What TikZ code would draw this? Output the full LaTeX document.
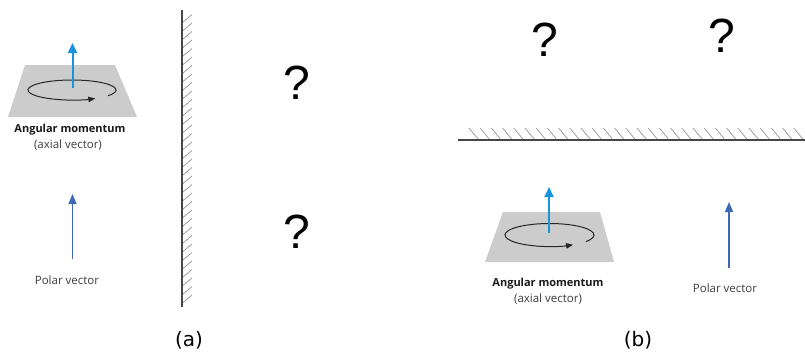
\documentclass[tikz,border=0pt]{standalone}
\usepackage{fontspec}
\setmainfont{Open Sans}
\newfontfamily\qfont{Liberation Sans}
\newfontfamily\labfont{DejaVu Sans}
\usetikzlibrary{arrows.meta}
\definecolor{axblue}{RGB}{24,148,220}
\definecolor{polblue}{RGB}{62,104,180}
\definecolor{txtgray}{RGB}{60,60,60}
\definecolor{planegray}{RGB}{204,204,204}
\definecolor{wallgray}{RGB}{70,70,70}
\definecolor{hatchgray}{RGB}{150,150,150}
\tikzset{
  plane/.style={fill=planegray, draw=none},
  spin/.style={draw=black!85, line width=1pt, -{Triangle[length=7pt,width=5.5pt]}},
  axial/.style={draw=axblue, line width=2pt, -{Triangle[length=10pt,width=9pt]}},
  polar/.style={draw=polblue, line width=1.3pt, -{Triangle[length=10pt,width=8pt]}},
  boldlab/.style={font=\fontsize{11}{13}\selectfont\bfseries, text=black!90, inner sep=0pt},
  sublab/.style={font=\fontsize{11.5}{13}\selectfont, text=txtgray, inner sep=0pt},
  qmark/.style={font=\qfont\fontsize{48}{50}\selectfont, inner sep=0pt},
  panel/.style={font=\labfont\fontsize{20}{22}\selectfont, inner sep=0pt},
  wall/.style={draw=wallgray, line width=2pt},
  hatch/.style={draw=hatchgray, line width=0.7pt}
}
\begin{document}
\begin{tikzpicture}[x=1pt,y=-1pt]
\useasboundingbox (0,0) rectangle (805,356);
\clip (0,0) rectangle (805,356);

% ---------- panel (a) ----------
\fill[plane] (25,65) -- (115,65) -- (137,117) -- (8,117) -- cycle;
\draw[spin] (72,90) ++(35:44 and 10) arc[start angle=35, end angle=-302, x radius=44, y radius=10];
\coordinate (a1) at (72.5,88);
\coordinate (a2) at (72.5,43);
\draw[axial] (a1) -- (a2);
\node[boldlab] (amA) at (70,130) {Angular momentum};
\node[sublab] (avA) at (68,145.5) {(axial vector)};

\coordinate (p1) at (72.5,259);
\coordinate (p2) at (72.5,194);
\draw[polar] (p1) -- (p2);
\node[sublab] (pvA) at (67,280) {Polar vector};

\coordinate (w1) at (182,10);
\coordinate (w2) at (182,307);
\draw[wall] (w1) -- (w2);
\foreach \yy in {22,30.5,...,304} {
  \draw[hatch] (183,\yy) -- (192,\yy-7.5);
}

\node[qmark] (q1) at (297,83) {?};
\node[qmark] (q2) at (297,232) {?};
\node[panel] (la) at (189,340) {(a)};

% ---------- panel (b) ----------
\coordinate (h1) at (458,140);
\coordinate (h2) at (805,140);
\draw[wall, line width=1.6pt] (h1) -- (h2);
\foreach \xx in {478,489.2,...,815} {
  \draw[hatch] (\xx,139) -- (\xx-9,128);
}

\node[qmark] (q3) at (545,40) {?};
\node[qmark] (q4) at (722,36) {?};

\fill[plane] (503,212) -- (600,212) -- (614,262) -- (485,262) -- cycle;
\draw[spin] (549.5,235) ++(35:44.5 and 11.5) arc[start angle=35, end angle=-302, x radius=44.5, y radius=11.5];
\coordinate (b1) at (549,233);
\coordinate (b2) at (549,187);
\draw[axial] (b1) -- (b2);
\node[boldlab] (amB) at (548,284) {Angular momentum};
\node[sublab] (avB) at (548,299) {(axial vector)};

\coordinate (c1) at (729,268);
\coordinate (c2) at (729,202);
\draw[polar] (c1) -- (c2);
\node[sublab] (pvB) at (725,288.5) {Polar vector};

\node[panel] (lb) at (638,340) {(b)};
\end{tikzpicture}
\end{document}
